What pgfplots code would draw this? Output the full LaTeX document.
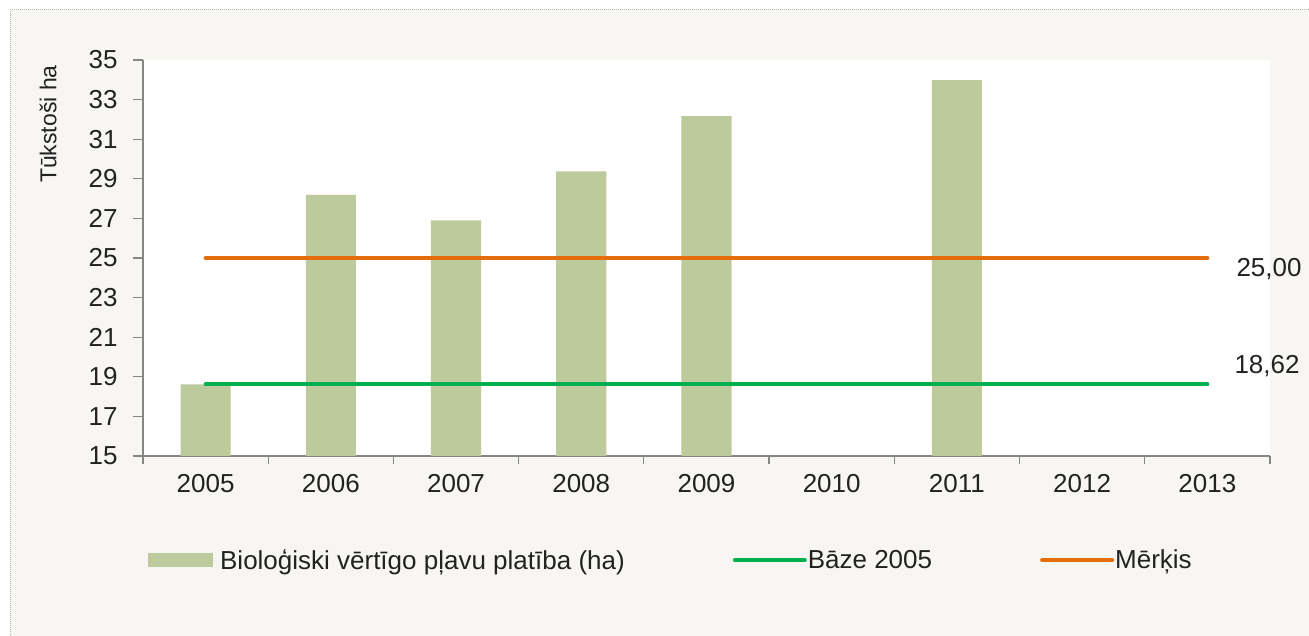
\documentclass[border=0pt]{standalone}
\usepackage{pgfplots}
\pgfplotsset{compat=1.18}
\usepackage{fontspec}
\setmainfont{Liberation Sans}
\definecolor{bg}{HTML}{F7F6F3}
\definecolor{barc}{HTML}{BCCA9C}
\definecolor{gline}{HTML}{00B050}
\definecolor{oline}{HTML}{E46C0A}
\definecolor{axc}{HTML}{868686}
\definecolor{txt}{HTML}{222222}
\begin{document}
\begin{tikzpicture}[x=1pt,y=1pt]
\useasboundingbox (0,0) rectangle (1309,636);
\fill[bg] (10,0) rectangle (1309,626);
\draw[gray!60, densely dotted, line width=1pt] (10,0) -- (10,626) -- (1309,626);
\begin{axis}[
  at={(143pt,180pt)}, anchor=south west,
  scale only axis, width=1127pt, height=396pt,
  axis background/.style={fill=white},
  clip mode=individual,
  xmin=-0.5, xmax=8.5, ymin=15, ymax=35,
  axis x line*=bottom, axis y line*=left,
  axis line style={axc, line width=1.2pt},
  tick align=outside,
  ytick={15,17,...,35},
  xtick={0,1,2,3,4,5,6,7,8},
  xticklabels={2005,2006,2007,2008,2009,2010,2011,2012,2013},
  minor xtick={-0.5,0.5,...,8.5},
  every major x tick/.append style={draw=none},
  every minor x tick/.append style={axc, line width=1.2pt},
  every major y tick/.append style={axc, line width=1.2pt},
  major tick length=10pt, minor tick length=8pt,
  ticklabel style={font=\fontsize{26}{30}\selectfont, text=txt},
  xticklabel style={yshift=-5pt},
  yticklabel style={xshift=-12pt},
  /pgf/number format/assume math mode=true,
  ylabel={Tūkstoši ha},
  ylabel style={at={(axis description cs:-0.0843,0.838)}, anchor=center, font=\fontsize{23}{27}\selectfont, text=txt},
  legend columns=3,
  legend cell align=left,
  legend style={at={(axis description cs:0.0044,-0.263)}, anchor=west, draw=none, fill=none, inner sep=0pt,
    font=\fontsize{26}{30}\selectfont, text=txt,
    nodes={inner sep=0pt},
    /tikz/every odd column/.style={column sep=1pt},
    /tikz/every even column/.style={column sep=108pt},
    /tikz/column 4/.style={column sep=111pt}},
]
\addplot[ybar, bar width=0.4, fill=barc, draw=none,
  legend image code/.code={\fill[barc] (0pt,-7pt) rectangle (65pt,7pt); \path (0pt,0pt) -- (71pt,0pt);}]
  coordinates {(0,18.62) (1,28.19) (2,26.90) (3,29.38) (4,32.16) (6,33.98)};
\addlegendentry{Bioloģiski vērtīgo pļavu platība (ha)}
\addplot[gline, line width=4pt, line cap=round,
  legend image code/.code={\draw (0pt,0pt) -- (70pt,0pt);}]
  coordinates {(0,18.62) (1,18.62) (2,18.62) (3,18.62) (4,18.62) (5,18.62) (6,18.62) (7,18.62) (8,18.62)};
\addlegendentry{Bāze 2005}
\addplot[oline, line width=4pt, line cap=round,
  legend image code/.code={\draw (0pt,0pt) -- (70pt,0pt);}]
  coordinates {(0,25) (1,25) (2,25) (3,25) (4,25) (5,25) (6,25) (7,25) (8,25)};
\addlegendentry{Mērķis}
\node[anchor=west, inner sep=0pt, xshift=29pt, yshift=-11pt, font=\fontsize{26}{30}\selectfont, text=txt] at (axis cs:8,25) {25,00};
\node[anchor=west, inner sep=0pt, xshift=27pt, yshift=18pt, font=\fontsize{26}{30}\selectfont, text=txt] at (axis cs:8,18.62) {18,62};
\end{axis}
\end{tikzpicture}
\end{document}
